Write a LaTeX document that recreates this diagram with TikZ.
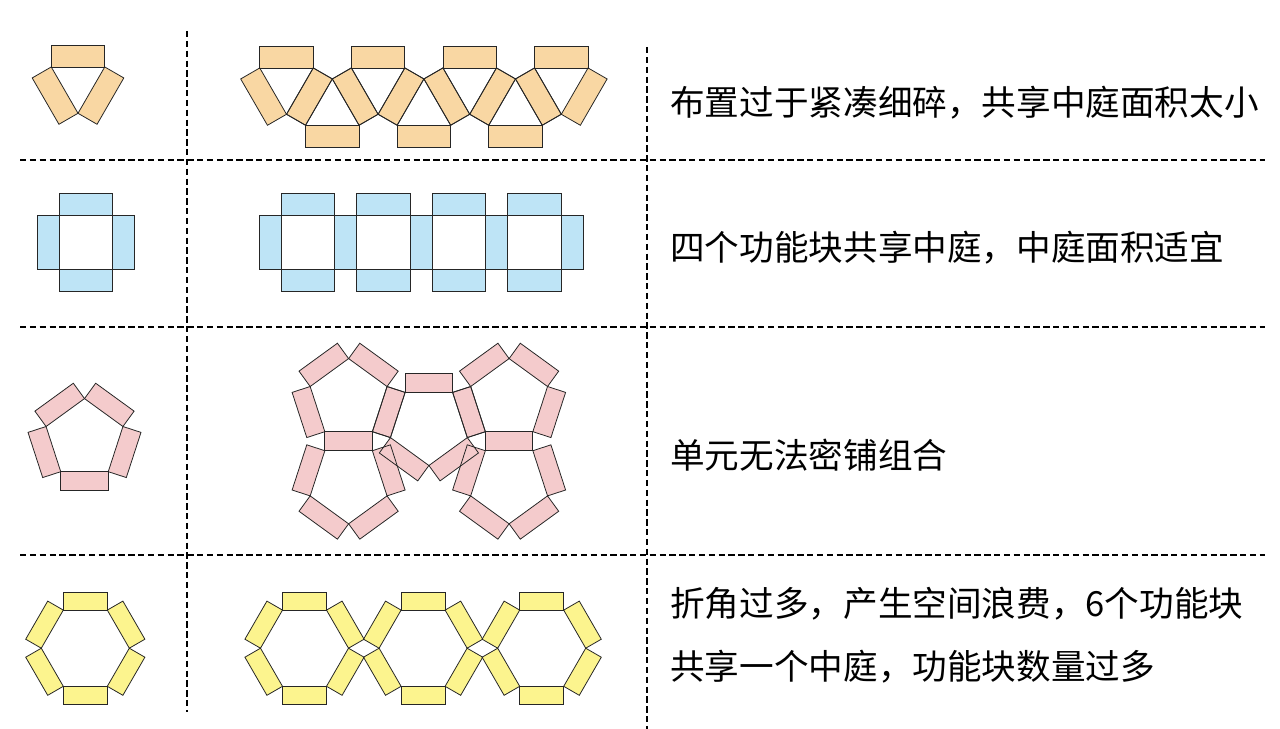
\documentclass[tikz,border=0pt]{standalone}
\usepackage{fontspec}
\setmainfont{Noto Sans CJK SC}
\usepackage{tikz}

\definecolor{peach}{RGB}{249,215,163}
\definecolor{skyblue}{RGB}{190,228,246}
\definecolor{rosepink}{RGB}{244,203,204}
\definecolor{lemon}{RGB}{252,244,142}

% ring of blocks round a courtyard: #1 fill, #2 centres x/y/turn, #3 sides, #4 length, #5 depth
\newcommand{\ringrow}[5]{%
  \pgfmathsetmacro{\apo}{#4/(2*tan(180/#3))}
  \foreach \cx/\cy/\st in {#2}{
    \foreach \k in {1,...,#3}
      \fill[#1, shift={(\cx,\cy)}, rotate={\st+\k*360/#3}] (-#4/2,\apo) rectangle (#4/2,\apo+#5);
  }
  \foreach \cx/\cy/\st in {#2}{
    \foreach \k in {1,...,#3}
      \draw[block edge, shift={(\cx,\cy)}, rotate={\st+\k*360/#3}] (-#4/2,\apo) rectangle (#4/2,\apo+#5);
  }
}

\begin{document}
\begin{tikzpicture}[x=0.02cm, y=-0.02cm,
  divider/.style={draw, line width=0.9pt, dash pattern=on 3.6pt off 2pt},
  block edge/.style={draw=black!85, line width=0.45pt},
  note/.style={anchor=west, inner sep=0pt, align=left, font=\fontsize{19.7}{35.7}\selectfont}]
  \useasboundingbox (0,0) rectangle (1280,729);

  % Dividers
  \foreach \y in {160,327,555}
    \draw[divider] (20,\y) -- (1265,\y);
  \draw[divider] (187,31) -- (187,712);
  \draw[divider] (647,47) -- (647,729);

  % Triangles
  \ringrow{peach}{78/82.4/180, 286.5/83.4/180, 378.1/83.4/180, 469.7/83.4/180, 561.3/83.4/180,
    332.3/109.8/0, 423.9/109.8/0, 515.5/109.8/0}{3}{53.5}{22}

  % Squares
  \ringrow{skyblue}{85.7/242.5/0, 307.9/242.5/0, 383.4/242.5/0, 458.9/242.5/0, 534.4/242.5/0}{4}{53.5}{22}

  % Pentagons
  \ringrow{rosepink}{84.5/439/0, 348.6/399/0, 348.6/483.4/180, 428.9/425.1/180,
    509.1/399/0, 509.1/483.4/180}{5}{47.5}{19}

  % Hexagons
  \ringrow{lemon}{85.3/648.2/0, 304.5/648.2/0, 423.1/648.2/0, 541.7/648.2/0}{6}{44}{18}

  \node[note] (note1) at (670,103) {布置过于紧凑细碎，共享中庭面积太小};
  \node[note] (note2) at (670,248) {四个功能块共享中庭，中庭面积适宜};
  \node[note] (note3) at (670,455) {单元无法密铺组合};
  \node[note] (note4) at (670,635.5) {折角过多，产生空间浪费，6个功能块\\共享一个中庭，功能块数量过多};
\end{tikzpicture}
\end{document}
